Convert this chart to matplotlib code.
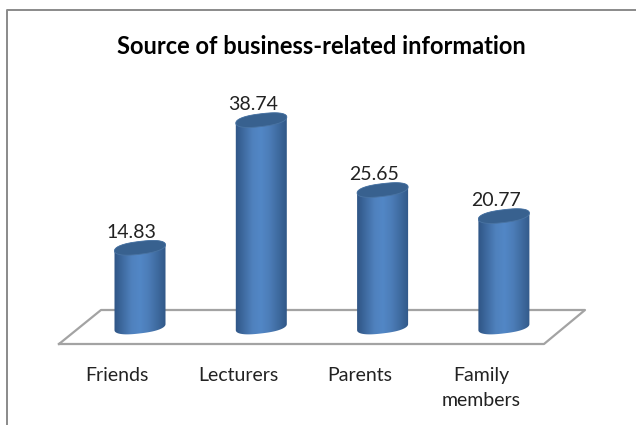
import numpy as np
import matplotlib
matplotlib.use("Agg")
import matplotlib.pyplot as plt
from matplotlib.colors import LinearSegmentedColormap
from matplotlib.lines import Line2D
from matplotlib.patches import Polygon
from matplotlib.transforms import ScaledTranslation

categories = ["Friends", "Lecturers", "Parents", "Family\nmembers"]
values = [14.83, 38.74, 25.65, 20.77]

W, H = 636, 425
BASE_PX = 327         # y of the zero line, from the top
PX_PER_UNIT = 5.34
PX_PER_CAT = 121.3
FIRST_PX = 140
Y_BELOW = 3.0         # value range kept under zero so the round bottoms are not cut

plt.rcParams["font.family"] = ["Lato", "DejaVu Sans"]

BODY_CMAP = LinearSegmentedColormap.from_list(
    "cyl", ["#2f5585", "#3f6ba1", "#4f81bd", "#5287c6", "#4c7db8", "#3f6ba0", "#315888"])


def arc(cx, cy_px, start, stop, rx=25.5, ry=6.4, tilt=3.0, n=80):
    """part of a tilted, slightly squared ellipse in pixels, y measured from the top"""
    t = np.linspace(start, stop, n)
    c = np.sign(np.cos(t)) * np.abs(np.cos(t)) ** 0.8
    s = np.sign(np.sin(t)) * np.abs(np.sin(t)) ** 0.9
    return cx + rx * c, cy_px + ry * s - tilt * c


def to_data(x_px, y_px):
    return np.column_stack([(x_px - FIRST_PX) / PX_PER_CAT, (BASE_PX - y_px) / PX_PER_UNIT])


def draw_cylinder(ax, idx, value):
    """one 3D-looking bar on the floor, from its value"""
    cx = FIRST_PX + idx * PX_PER_CAT
    top_px = BASE_PX - value * PX_PER_UNIT

    # body outline: far edge of the top ellipse, near edge of the bottom one
    ux, uy = arc(cx, top_px, np.pi, 2 * np.pi)
    lx, ly = arc(cx, BASE_PX, 0, np.pi)
    body = Polygon(to_data(np.r_[ux, lx], np.r_[uy, ly]), closed=True,
                   facecolor="none", edgecolor="none")
    ax.add_patch(body)

    half = 26.0 / PX_PER_CAT
    grad = np.linspace(0, 1, 128).reshape(1, -1)
    im = ax.imshow(grad, cmap=BODY_CMAP, aspect="auto", zorder=3,
                   extent=(idx - half, idx + half, -Y_BELOW, value + 2))
    im.set_clip_path(body)

    tx, ty = arc(cx, top_px, 0, 2 * np.pi)
    cap = Polygon(to_data(tx, ty), closed=True, facecolor="#38618f",
                  edgecolor="#4a74a3", linewidth=0.6, zorder=4)
    ax.add_patch(cap)

    ax.annotate(f"{value:.2f}", (idx, value), xytext=(-6, 11),
                textcoords="offset points", ha="center", va="center",
                fontsize=14, color="#222222", zorder=5)


fig = plt.figure(figsize=(W / 100, H / 100), dpi=100, facecolor="white")

# axes placed so one category step and one value unit fall on the pixel scale
y_top = (BASE_PX - 40) / PX_PER_UNIT
bottom_px = BASE_PX + Y_BELOW * PX_PER_UNIT
ax = fig.add_axes([(FIRST_PX - PX_PER_CAT / 2) / W, (H - bottom_px) / H,
                   4 * PX_PER_CAT / W, (bottom_px - 40) / H])
ax.patch.set_alpha(0)
for s in ax.spines.values():
    s.set_visible(False)
ax.set_yticks([])

for i, v in enumerate(values):
    draw_cylinder(ax, i, v)
ax.set_xlim(-0.5, 3.5)
ax.set_ylim(-Y_BELOW, y_top)

# tick labels sit under the front edge of the floor, left of the bars
ax.set_xticks(range(len(categories)))
ax.set_xticklabels(categories, fontsize=14, color="#222222", linespacing=1.6, va="top")
ax.tick_params(axis="x", length=0, pad=17)
shift = ScaledTranslation(-23 / 100, 0, fig.dpi_scale_trans)
for lab in ax.get_xticklabels():
    lab.set_transform(lab.get_transform() + shift)

# floor parallelogram, and the chart frame on the top and left
fx = np.array([59, 101, 585, 544, 59]) / W
fy = 1 - np.array([344, 310, 310, 344, 344]) / H
fig.add_artist(Line2D(fx, fy, color="#a3a3a3", linewidth=1.6, zorder=0))
fig.add_artist(Line2D(np.array([7, 7, 636]) / W, 1 - np.array([425, 10, 10]) / H,
                      color="#8a8a8a", linewidth=1.4, zorder=0))

fig.text(321.5 / W, 1 - 47 / H, "Source of business-related information", ha="center",
         va="center", fontsize=17, fontweight="bold", color="black")

fig.savefig("out.png", dpi=100)
